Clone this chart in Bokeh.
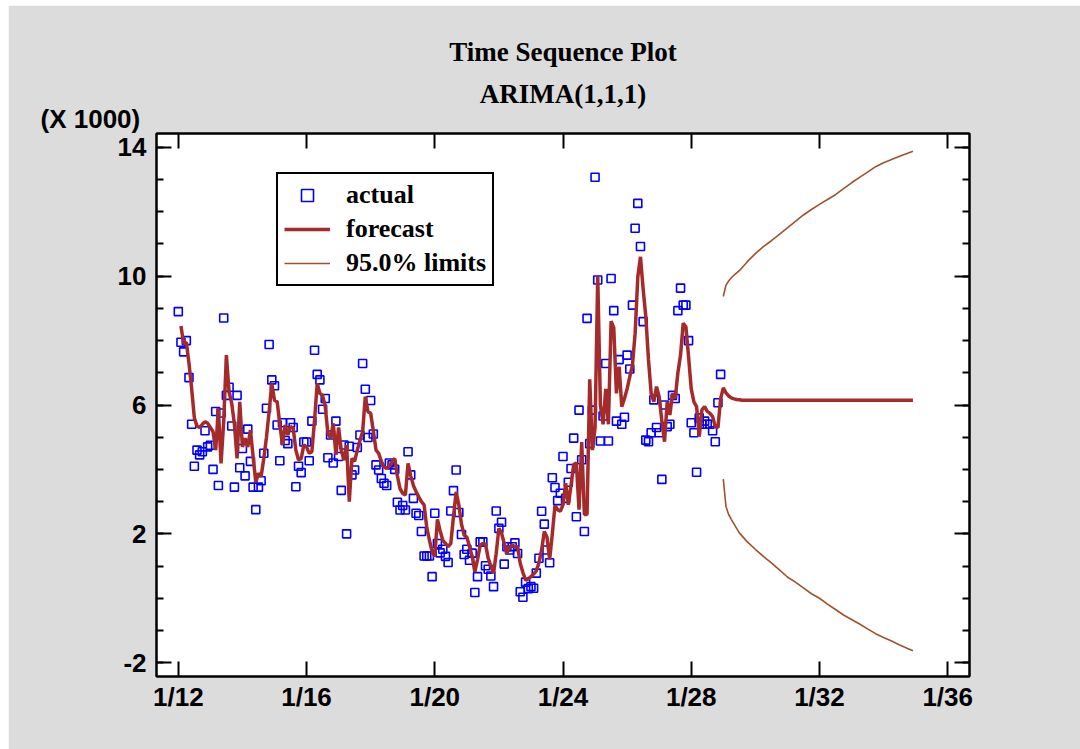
from bokeh.plotting import figure
from bokeh.models import (Range1d, FixedTicker, LinearAxis, Title, Legend,
                          LegendItem, Spacer)
from bokeh.layouts import column, row
from bokeh.embed import file_html
from bokeh.resources import INLINE

# ---------------- data (values in thousands) ----------------
start_year = 12          # first observation: month 1 of "12"
x_ticks = [12, 16, 20, 24, 28, 32, 36]
x_tick_labels = ["1/12", "1/16", "1/20", "1/24", "1/28", "1/32", "1/36"]
y_ticks = [-2, 2, 6, 10, 14]
y_tick_labels = ["-2", "2", "6", "10", "14"]

actual = [
    8.9, 7.95, 7.65, 8.0, 6.85, 5.4, 4.1, 4.6, 4.45, 4.55, 5.2, 4.7,
    4.75, 4.0, 5.8, 3.5, 5.75, 8.7, 6.3, 6.55, 5.35, 3.45, 6.3, 4.05,
    4.65, 3.8, 5.25, 4.25, 3.45, 2.75, 3.45, 3.65, 4.5, 5.9, 7.88, 6.78,
    6.6, 5.38, 4.27, 5.45, 4.9, 4.8, 5.45, 5.3, 3.46, 4.1, 3.9, 4.85,
    4.85, 4.27, 5.5, 7.7, 6.95, 6.78, 5.87, 6.2, 4.36, 5.07, 4.2, 5.5,
    4.4, 3.35, 4.76, 2.0, 4.72, 3.83, 3.98, 4.68, 5.07, 7.29, 6.49, 4.99,
    6.14, 5.1, 4.14, 3.98, 3.72, 3.57, 3.5, 4.2, 4.14, 4.0, 2.98, 2.74,
    2.88, 2.74, 4.55, 3.83, 3.1, 2.64, 2.57, 2.07, 1.31, 1.31, 1.31, 0.67,
    2.64, 1.70, 1.41, 1.52, 1.3, 1.11, 2.71, 3.34, 3.98, 2.66, 1.98, 1.36,
    1.52, 1.18, 1.4, 0.18, 0.67, 1.75, 1.75, 1.01, 0.9, 0.69, 0.36, 2.71,
    2.17, 2.36, 1.06, 1.6, 1.5, 1.6, 1.72, 1.39, 0.2, 0.03, 0.5, 0.3,
    0.36, 0.31, 0.78, 1.24, 2.7, 2.3, 1.5, 1.1, 3.74, 3.44, 3.03, 3.26,
    4.4, 3.1, 3.6, 4.03, 4.97, 2.53, 5.84, 4.3, 2.07, 8.69, 4.8, 5.84,
    13.07, 9.88, 4.88, 5.66, 7.29, 4.88, 9.93, 8.93, 5.5, 7.41, 5.4, 5.62,
    7.55, 7.12, 9.1, 11.49, 12.26, 10.92, 8.59, 4.91, 4.86, 5.14, 6.16, 5.3,
    5.14, 3.69, 6.0, 5.33, 5.4, 6.3, 6.2, 8.93, 9.63, 9.1, 9.1, 8.0,
    5.45, 5.14, 3.91, 5.6, 5.4, 5.5, 5.4, 5.4, 5.2, 4.86, 6.07, 6.95,
]

# one-step-ahead forecasts, from month index 1 onward
forecast_fit = [
    8.45, 7.9, 7.95, 7.3, 6.5, 5.6, 5.35, 5.3, 5.4, 5.48, 5.43,
    5.3, 5.17, 4.6, 5.9, 4.19, 5.5, 7.55, 6.4, 6.05, 5.4, 4.34, 6.1,
    4.7, 4.97, 4.7, 5.22, 4.4, 3.6, 3.88, 3.78, 4.34, 5.0, 5.8, 6.67,
    6.15, 6.1, 5.4, 4.76, 5.38, 5.07, 5.33, 5.28, 4.6, 4.29, 4.34, 4.76,
    4.7, 4.5, 4.55, 5.53, 6.67, 6.36, 6.3, 5.95, 5.12, 4.97, 5.43, 4.45,
    5.3, 4.6, 4.29, 4.76, 3.0, 4.34, 4.25, 4.6, 4.9, 5.17, 6.26, 5.79,
    5.74, 5.2, 4.6, 4.5, 4.25, 4.08, 4.03, 4.1, 4.24, 4.34, 3.8, 3.4,
    3.26, 3.2, 4.19, 3.8, 3.5, 3.31, 3.15, 3.0, 2.9, 2.2, 1.8, 1.45,
    1.3, 2.45, 2.1, 1.8, 1.7, 1.6, 1.7, 2.53, 3.3, 2.9, 2.3, 1.96,
    1.9, 1.6, 1.3, 0.82, 1.2, 1.65, 1.7, 1.68, 1.24, 1.0, 0.77, 1.4,
    2.17, 2.02, 1.7, 1.39, 1.6, 1.65, 1.6, 1.6, 1.08, 0.8, 0.56, 0.6,
    0.67, 0.75, 0.85, 1.1, 1.5, 2.07, 1.9, 1.2, 2.0, 2.88, 2.75, 2.7,
    2.9, 3.57, 2.9, 3.5, 4.15, 4.2, 2.75, 4.85, 2.6, 2.6, 6.8, 4.6,
    5.3, 10.0, 6.0, 5.4, 6.5, 5.4, 8.6, 8.4, 6.36, 7.19, 5.95, 6.2,
    6.5, 6.88, 7.24, 8.23, 9.98, 10.6, 9.6, 8.74, 7.4, 6.36, 6.1, 6.57,
    6.26, 5.5, 4.86, 6.1, 5.69, 6.36, 6.2, 7.0, 7.55, 8.54, 8.43, 7.5,
    6.5, 6.1, 5.95, 5.02, 5.85, 5.95, 5.8, 5.74, 5.64, 5.33, 5.3, 6.2,
]

# out-of-sample forecasts (continue right after the last observation)
forecast_out = [
    6.53, 6.38, 6.28, 6.22, 6.19, 6.17, 6.16, 6.15, 6.15, 6.15, 6.15, 6.15,
    6.15, 6.15, 6.15, 6.15, 6.15, 6.15, 6.15, 6.15, 6.15, 6.15, 6.15, 6.15,
    6.15, 6.15, 6.15, 6.15, 6.15, 6.15, 6.15, 6.15, 6.15, 6.15, 6.15, 6.15,
    6.15, 6.15, 6.15, 6.15, 6.15, 6.15, 6.15, 6.15, 6.15, 6.15, 6.15, 6.15,
    6.15, 6.15, 6.15, 6.15, 6.15, 6.15, 6.15, 6.15, 6.15, 6.15, 6.15, 6.15,
    6.15, 6.15, 6.15, 6.15, 6.15, 6.15, 6.15, 6.15, 6.15, 6.15, 6.15, 6.15,
]

# 95% limits: months ahead and values
limit_steps = [0, 1, 2, 3, 4, 6, 9, 12, 15, 18, 21, 24, 27, 30, 33, 36,
               39, 42, 45, 48, 51, 54, 57, 60, 63, 66, 69, 71]
upper_limit = [9.37, 9.72, 9.85, 9.95, 10.03, 10.17, 10.45, 10.7, 10.92,
               11.1, 11.3, 11.5, 11.7, 11.9, 12.07, 12.23, 12.38, 12.53,
               12.72, 12.9, 13.07, 13.23, 13.4, 13.52, 13.62, 13.72, 13.82,
               13.88]
lower_limit = [3.7, 2.85, 2.6, 2.45, 2.31, 2.03, 1.75, 1.52, 1.3, 1.1, 0.88,
               0.66, 0.5, 0.32, 0.14, 0.0, -0.18, -0.35, -0.52, -0.66, -0.8,
               -0.95, -1.1, -1.22, -1.33, -1.45, -1.56, -1.63]

# ---------------- coordinates (time in years) ----------------
n_obs = len(actual)
t_actual = [start_year + m / 12 for m in range(n_obs)]
fc_all = forecast_fit + forecast_out
t_fc = [start_year + (m + 1) / 12 for m in range(len(fc_all))]
t_lim = [start_year + (n_obs + k) / 12 for k in limit_steps]

# ---------------- styling ----------------
GRAY = "#DCDCDC"
BLUE = "#0000FF"
RED = "#A52A2A"
BROWN = "#A0522D"
SANS = "Liberation Sans"
SERIF = "Liberation Serif"

p = figure(width=1072, height=744,
           x_range=Range1d(11.32, 36.68), y_range=Range1d(-2.43, 14.43),
           output_backend="svg", toolbar_location=None,
           min_border_left=148, min_border_right=111,
           min_border_top=128, min_border_bottom=73,
           background_fill_color="white", border_fill_color=GRAY,
           outline_line_color="black", outline_line_width=2)
p.grid.visible = False

xt = FixedTicker(ticks=x_ticks, minor_ticks=[])
yt = FixedTicker(ticks=y_ticks, minor_ticks=list(range(-2, 15)))
xover = {t: s for t, s in zip(x_ticks, x_tick_labels)}
yover = {t: s for t, s in zip(y_ticks, y_tick_labels)}


def style_axis(ax, show_labels):
    ax.axis_line_color = "black"
    ax.axis_line_width = 2
    ax.major_tick_in = 15
    ax.major_tick_out = 0
    ax.minor_tick_in = 7
    ax.minor_tick_out = 0
    ax.major_tick_line_width = 2
    ax.minor_tick_line_width = 2
    ax.major_tick_line_color = "black"
    ax.minor_tick_line_color = "black"
    ax.major_label_text_font = SANS
    ax.major_label_text_font_style = "bold"
    if show_labels:
        ax.major_label_text_font_size = "26px"
        ax.major_label_text_color = "black"
    else:
        ax.major_label_text_font_size = "0px"
        ax.major_label_text_color = None
        ax.major_label_standoff = 0


xa = p.xaxis[0]
xa.ticker = xt
xa.major_label_overrides = xover
xa.major_label_standoff = 5
style_axis(xa, True)

ya = p.yaxis[0]
ya.ticker = yt
ya.major_label_overrides = yover
ya.major_label_standoff = 10
style_axis(ya, True)

top_ax = LinearAxis(ticker=xt, major_label_overrides=xover)
style_axis(top_ax, False)
p.add_layout(top_ax, "above")
right_ax = LinearAxis(ticker=yt, major_label_overrides=yover)
style_axis(right_ax, False)
p.add_layout(right_ax, "right")

# ---------------- glyphs ----------------
r_act = p.scatter(t_actual, actual, marker="square", size=8,
                  fill_color=None, line_color=BLUE, line_width=1.6)
r_up = p.line(t_lim, upper_limit, line_color=BROWN, line_width=1.6)
p.line(t_lim, lower_limit, line_color=BROWN, line_width=1.6)
r_fc = p.line(t_fc, fc_all, line_color=RED, line_width=3.5)

legend = Legend(items=[LegendItem(label="actual", renderers=[r_act]),
                       LegendItem(label="forecast", renderers=[r_fc]),
                       LegendItem(label="95.0% limits", renderers=[r_up])],
                location=(120, 390), margin=0, padding=6, spacing=4,
                glyph_width=46, glyph_height=30, label_height=30,
                label_standoff=16,
                label_text_font=SERIF, label_text_font_style="bold",
                label_text_font_size="26px", label_text_color="black",
                border_line_color="black", border_line_width=2,
                border_line_alpha=1.0,
                background_fill_color="white", background_fill_alpha=1.0)
p.add_layout(legend)

# ---------------- titles and unit label (stacked outward) ----------------
p.add_layout(Title(text="(X 1000)", align="left", offset=-116, standoff=0,
                   text_font=SANS, text_font_style="bold",
                   text_font_size="26px", text_color="black"), "above")
p.add_layout(Title(text="ARIMA(1,1,1)", align="center", standoff=-15,
                   text_font=SERIF, text_font_style="bold",
                   text_font_size="27px", text_color="black"), "above")
p.add_layout(Title(text="Time Sequence Plot", align="center", standoff=35,
                   text_font=SERIF, text_font_style="bold",
                   text_font_size="27px", text_color="black"), "above")

layout = column(Spacer(height=5, width=1080),
                row(Spacer(width=8, height=744), p))

open("out.html", "w").write(file_html(layout, INLINE))
